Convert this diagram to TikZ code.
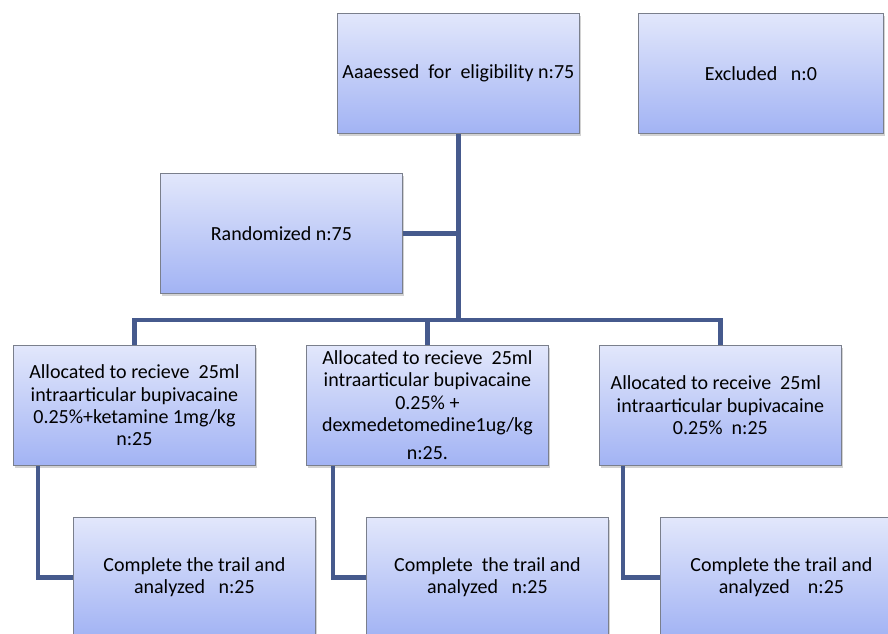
\documentclass[tikz,border=0pt]{standalone}
\usepackage{fontspec}
\setmainfont{Carlito}
\usetikzlibrary{shadows}
\definecolor{conncol}{HTML}{465A8D}
\definecolor{boxtop}{HTML}{E2E7FB}
\definecolor{boxbot}{HTML}{A2B3F4}
\definecolor{boxedge}{HTML}{7A7F8C}
\tikzset{
  flowbox/.style={draw=boxedge, line width=0.8pt, top color=boxtop, bottom color=boxbot,
    minimum width=242pt, minimum height=120pt, anchor=north west, align=center,
    inner sep=2pt, font=\fontsize{20}{22.3}\selectfont,
    drop shadow={opacity=0.35, shadow xshift=1.5pt, shadow yshift=-2.5pt}},
  conn/.style={draw=conncol, line width=4.5pt}
}
\begin{document}
\begin{tikzpicture}[x=1pt,y=-1pt]
\useasboundingbox (0,0) rectangle (888,633);
\clip (0,0) rectangle (888,633);
\fill[white] (0,0) rectangle (888,633);
\coordinate (bar) at (0,320);
\node[flowbox] (assess) at (337,13) {Aaaessed\ \ for\ \ eligibility n:75};
\node[flowbox, minimum width=245pt] (excl) at (638,13) {Excluded\ \ \ n:0};
\node[flowbox] (rand) at (160,173) {Randomized n:75};
\node[flowbox] (a1) at (13,345) {Allocated to recieve\ \ 25ml\\ intraarticular bupivacaine\\ 0.25\%+ketamine 1mg/kg\\ n:25};
\node[flowbox] (a2) at (306,345) {Allocated to recieve\ \ 25ml\\ intraarticular bupivacaine\\ 0.25\% +\\ dexmedetomedine1ug/kg\\[6pt] n:25.};
\node[flowbox] (a3) at (599,345) {Allocated to receive\ \ 25ml\ \ \ \\ intraarticular bupivacaine\\ 0.25\%\ \ n:25};
\node[flowbox] (c1) at (73,517) {Complete the trail and\\ analyzed\ \ \ n:25};
\node[flowbox] (c2) at (366,517) {Complete\ \ the trail and\\ analyzed\ \ \ n:25};
\node[flowbox] (c3) at (660,517) {Complete the trail and\\ analyzed\ \ \ \ n:25};
\draw[conn] (assess.south) -- (assess.south |- bar);
\draw[conn] (rand.east) -- (rand.east -| assess.south);
\draw[conn] (a1.north) -- (a1.north |- bar) -- (a3.north |- bar) -- (a3.north);
\draw[conn] (a2.north) -- (a2.north |- bar);
\draw[conn] ([xshift=25pt]a1.south west) |- (c1.west);
\draw[conn] ([xshift=27pt]a2.south west) |- (c2.west);
\draw[conn] ([xshift=24pt]a3.south west) |- (c3.west);
\end{tikzpicture}
\end{document}
